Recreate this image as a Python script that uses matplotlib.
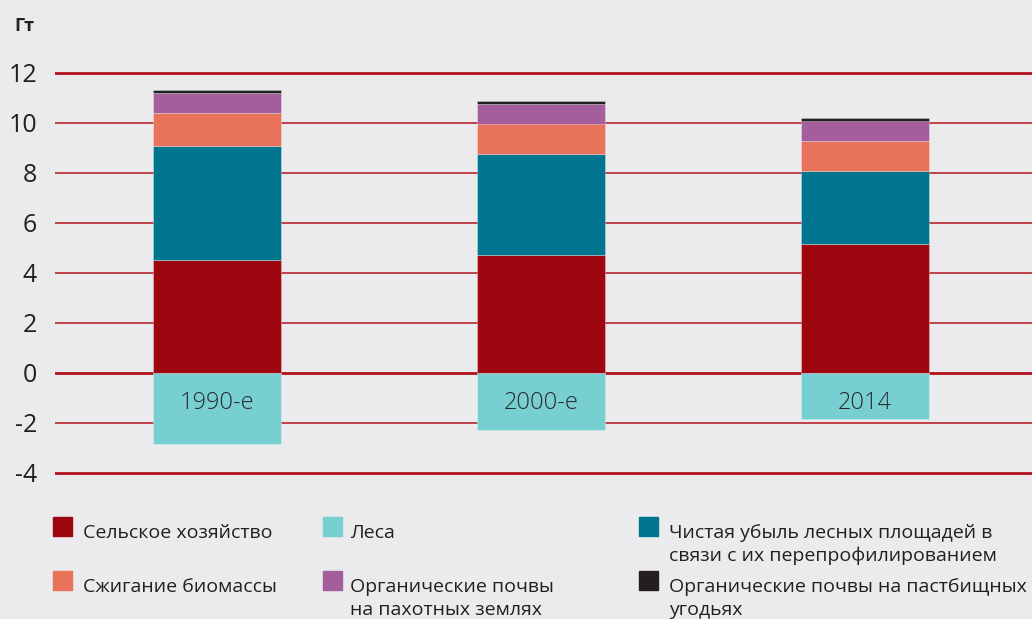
import matplotlib
matplotlib.use('Agg')
import matplotlib.pyplot as plt
from matplotlib.patches import Rectangle
import numpy as np

plt.rcParams['font.family'] = ['Open Sans', 'DejaVu Sans']

# Data (Gt CO2-eq)
periods = ['1990-е', '2000-е', '2014']
agriculture = [4.53, 4.74, 5.18]
forests = [-2.82, -2.26, -1.82]
deforestation = [4.54, 4.02, 2.89]
biomass = [1.34, 1.22, 1.23]
organic_crop = [0.78, 0.77, 0.80]
organic_grass = [0.13, 0.13, 0.12]

yticks = [-4, -2, 0, 2, 4, 6, 8, 10, 12]

labels = ['Сельское хозяйство', 'Леса',
          'Чистая убыль лесных площадей в\nсвязи с их перепрофилированием',
          'Сжигание биомассы', 'Органические почвы\nна пахотных землях',
          'Органические почвы на пастбищных\nугодьях']
colors = ['#9e0610', '#78cfd2', '#00758f', '#e8735a', '#a45e9b', '#231f20']

W, H = 1032, 619
bg = '#ebebee'
fig = plt.figure(figsize=(W / 100, H / 100), dpi=100, facecolor=bg)
ax = fig.add_axes([55 / W, (H - 475.5) / H, (W - 55) / W, 405 / H])
ax.set_facecolor(bg)

# gridlines
for t in yticks:
    lw = 2.0 if t in (12, 0, -4) else 1.1
    ax.axhline(t, color='#b2121b', lw=lw, zorder=1)

x = np.arange(len(periods))
w = 0.395
edge = (1, 1, 1, 0.3)
bottom = np.zeros(len(periods))
stack = [(agriculture, colors[0]), (deforestation, colors[2]), (biomass, colors[3]),
         (organic_crop, colors[4]), (organic_grass, colors[5])]
for vals, c in stack:
    ax.bar(x, vals, w, bottom=bottom, color=c, edgecolor=edge, linewidth=0.7, zorder=2)
    bottom += np.array(vals)
ax.bar(x, forests, w, color=colors[1], edgecolor=edge, linewidth=0.7, zorder=2)

for xi, p in zip(x, periods):
    ax.text(xi, -1.2, p, ha='center', va='center', fontsize=17,
            fontweight='light', color='#2b2b2b', zorder=3)

ax.set_xlim(-0.5, 2.515)
ax.set_ylim(-4.1, 12.1)
ax.set_xticks([])
ax.set_yticks(yticks)
ax.set_yticklabels([str(t) for t in yticks], fontsize=18, color='#231f20')
ax.tick_params(axis='y', length=0, pad=13)
for s in ax.spines.values():
    s.set_visible(False)

fig.text(14 / W, 1 - 31 / H, 'Гт', fontsize=13, fontweight='bold',
         color='#231f20', va='baseline')

# legend, three columns
col_sq = [53, 323, 639]
col_tx = [83, 350, 669]
row_sq = [517, 571]
row_base = [538, 592]
order = [(0, 0), (0, 1), (0, 2), (1, 0), (1, 1), (1, 2)]
for (r, c), lab, colr in zip(order, labels, colors):
    fig.add_artist(Rectangle((col_sq[c] / W, 1 - (row_sq[r] + 19) / H), 19 / W, 19 / H,
                             transform=fig.transFigure, color=colr))
    for i, line in enumerate(lab.split('\n')):
        fig.text(col_tx[c] / W, 1 - (row_base[r] + 23 * i) / H, line,
                 fontsize=14, color='#231f20', va='baseline')

fig.savefig('out.png', dpi=100, facecolor=bg)
